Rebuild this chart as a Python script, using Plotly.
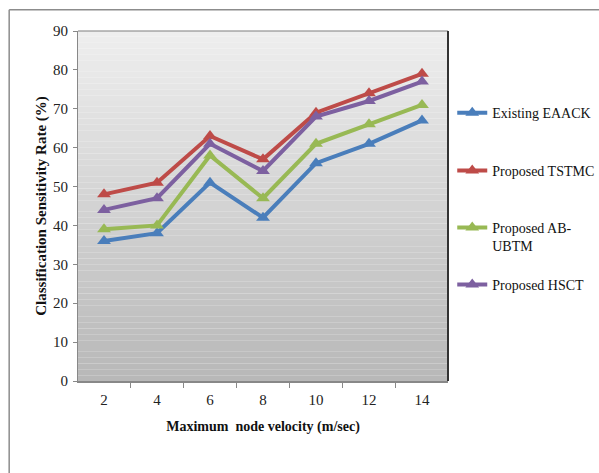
import plotly.graph_objects as go

categories = ["2", "4", "6", "8", "10", "12", "14"]
existing_eaack = [36, 38, 51, 42, 56, 61, 67]
proposed_tstmc = [48, 51, 63, 57, 69, 74, 79]
proposed_abubtm = [39, 40, 58, 47, 61, 66, 71]
proposed_hsct = [44, 47, 61, 54, 68, 72, 77]

series = [
    ("Existing EAACK", existing_eaack, "#4A7EBB", "legend"),
    ("Proposed TSTMC", proposed_tstmc, "#BE4B48", "legend2"),
    ("Proposed AB-<br>UBTM", proposed_abubtm, "#98B954", "legend3"),
    ("Proposed HSCT", proposed_hsct, "#7D60A0", "legend4"),
]

FONT = "Liberation Serif, Times New Roman, serif"

fig = go.Figure()
for name, vals, color, lg in series:
    fig.add_trace(go.Scatter(
        x=categories, y=vals, name=name, mode="lines+markers",
        line=dict(color=color, width=4),
        marker=dict(symbol="triangle-up", size=12, color=color),
        legend=lg,
    ))

# gradient plot background (bands)
shapes = []
n = 60
top = (238, 238, 238)
bot = (184, 184, 184)
for i in range(n):
    t = i / (n - 1)
    c = tuple(int(round(top[k] + (bot[k] - top[k]) * t)) for k in range(3))
    shapes.append(dict(type="rect", xref="paper", yref="paper",
                       x0=0, x1=1, y1=1 - i / n, y0=1 - (i + 1) / n,
                       fillcolor="rgb(%d,%d,%d)" % c, line=dict(width=0),
                       layer="below"))
# plot-area borders
shapes.append(dict(type="line", xref="paper", yref="paper", x0=0, x1=1, y0=1, y1=1,
                   line=dict(color="#7f7f7f", width=1.2)))
shapes.append(dict(type="line", xref="paper", yref="paper", x0=1, x1=1, y0=0, y1=1,
                   line=dict(color="#333333", width=2)))
# outer chart border (top & left visible)
shapes.append(dict(type="line", xref="paper", yref="paper", x0=-0.186, x1=1.5, y0=1.061, y1=1.061,
                   line=dict(color="#8c8c8c", width=1.5)))
shapes.append(dict(type="line", xref="paper", yref="paper", x0=-0.186, x1=-0.186, y0=-0.4, y1=1.061,
                   line=dict(color="#8c8c8c", width=1.5)))

legend_common = dict(font=dict(family=FONT, size=14, color="#111"),
                     bgcolor="rgba(0,0,0,0)", xanchor="left",
                     xref="container", yref="container",
                     valign="top", itemwidth=30)
lx = 0.755

fig.update_layout(
    width=599, height=473,
    margin=dict(l=78, r=151, t=31, b=92, autoexpand=False),
    paper_bgcolor="white",
    plot_bgcolor="rgba(0,0,0,0)",
    font=dict(family=FONT, size=14, color="#222"),
    shapes=shapes,
    showlegend=True,
    legend=dict(x=lx, y=0.761, yanchor="middle", **legend_common),
    legend2=dict(x=lx, y=0.6385, yanchor="middle", **legend_common),
    legend3=dict(x=lx, y=0.552, yanchor="top", **legend_common),
    legend4=dict(x=lx, y=0.3975, yanchor="middle", **legend_common),
    xaxis=dict(
        type="category", tickson="boundaries", ticks="outside", ticklen=5,
        tickcolor="#888", showline=True, linecolor="#888", linewidth=1.5,
        showgrid=False, zeroline=False, ticklabelstandoff=4,
        tickfont=dict(family=FONT, size=15, color="#222"),
        title=dict(text="<b>Maximum&nbsp; node velocity (m/sec)</b>",
                   font=dict(family=FONT, size=14, color="#111"), standoff=14),
    ),
    yaxis=dict(
        range=[0, 90], dtick=10, ticks="outside", ticklen=4, tickcolor="#888",
        showline=True, linecolor="#888", linewidth=1.2,
        showgrid=False, zeroline=False, ticklabelstandoff=2,
        tickfont=dict(family=FONT, size=15, color="#222"),
        title=dict(text="<b>Classification Sensitivity Rate (%)</b>",
                   font=dict(family=FONT, size=15, color="#111"), standoff=2),
    ),
)

fig.write_html("out.html")
